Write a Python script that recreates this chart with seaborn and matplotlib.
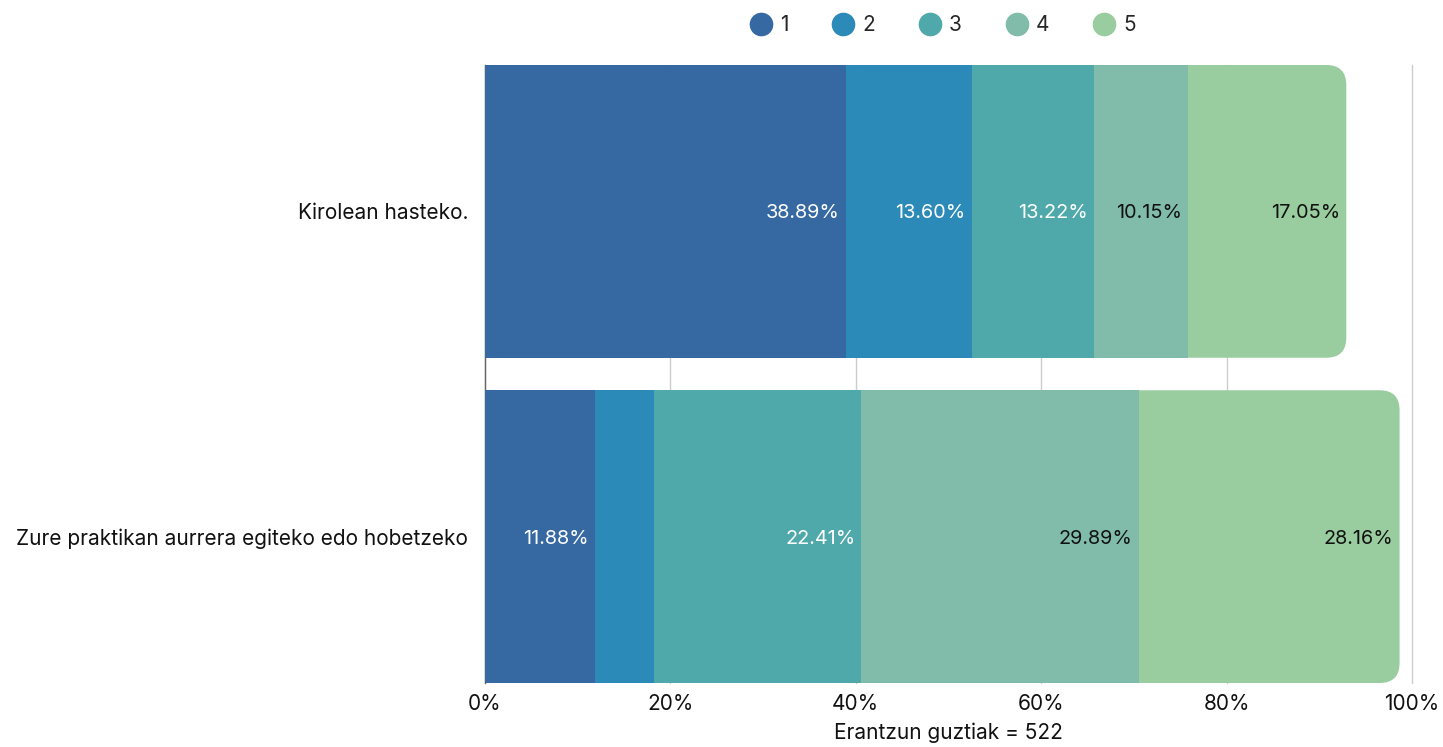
import numpy as np
import pandas as pd
import matplotlib
matplotlib.use("Agg")
import matplotlib.pyplot as plt
from matplotlib.patches import FancyBboxPatch
from matplotlib.lines import Line2D
import matplotlib.transforms as mtransforms
import seaborn as sns

categories = ["Kirolean hasteko.", "Zure praktikan aurrera egiteko edo hobetzeko"]
series_names = ["1", "2", "3", "4", "5"]
s1 = [38.89, 11.88]
s2 = [13.60, 6.32]
s3 = [13.22, 22.41]
s4 = [10.15, 29.89]
s5 = [17.05, 28.16]
colors = ["#3669a1", "#2c8ab8", "#4fa9aa", "#80bca9", "#99cc9e"]
text_colors = ["white", "white", "white", "#111111", "#111111"]
xticks = [0, 20, 40, 60, 80, 100]
xlabel = "Erantzun guztiak = 522"

sns.set_theme(style="white")
plt.rcParams["font.family"] = ["Inter", "DejaVu Sans"]

series = [s1, s2, s3, s4, s5]
vals = np.array(series)
cum = np.cumsum(vals, axis=0)

fig = plt.figure(figsize=(14.43, 7.47), dpi=100)
ax = fig.add_axes([485 / 1443, 1 - 683 / 747, (1412 - 485) / 1443, (683 - 65) / 747])

for k in range(len(series) - 1, -1, -1):
    df = pd.DataFrame({"category": categories, "value": cum[k]})
    sns.barplot(data=df, x="value", y="category", color=colors[k], saturation=1,
                width=0.9, orient="h", ax=ax, zorder=2, linewidth=0, edgecolor="none")

ax.set_ylim(1.45, -0.45)
ax.set_xlim(0, 100)

# round the right end of the total bars (first drawn patches)
fig.canvas.draw()
px_per_x = ax.transData.transform((1, 0))[0] - ax.transData.transform((0, 0))[0]
px_per_y = abs(ax.transData.transform((0, 1))[1] - ax.transData.transform((0, 0))[1])
r_px = 20
r_x = r_px / px_per_x
aspect = (r_px / px_per_y) / r_x
total_patches = list(ax.patches[:len(categories)])
for p in total_patches:
    x0, y0, w, h = p.get_x(), p.get_y(), p.get_width(), p.get_height()
    fc = p.get_facecolor()
    p.remove()
    fb = FancyBboxPatch((x0, y0), w, h,
                        boxstyle=f"round,pad=0,rounding_size={r_x}",
                        mutation_aspect=aspect, facecolor=fc, edgecolor="none",
                        linewidth=0, zorder=1.9)
    ax.add_patch(fb)

# value labels
offset = mtransforms.ScaledTranslation(-6 / 100, 0, fig.dpi_scale_trans)
for k in range(len(series)):
    for i in range(len(categories)):
        v = vals[k][i]
        if v < 8:
            continue
        ax.text(cum[k][i], i, f"{v:.2f}%", ha="right", va="center_baseline",
                color=text_colors[k], fontsize=14.3,
                transform=ax.transData + offset, zorder=5)

ax.set_xticks(xticks)
ax.set_xticklabels([f"{t}%" for t in xticks], fontsize=15, color="#111111")
ax.tick_params(axis="y", length=0, pad=12, labelsize=15, labelcolor="#111111")
ax.tick_params(axis="x", length=0, pad=8)
ax.set_ylabel("")
ax.set_xlabel(xlabel, fontsize=15, color="#111111", labelpad=6)

ax.grid(axis="x", color="#cccccc", linewidth=1, zorder=0)
for gl in ax.get_xgridlines():
    gl.set_clip_on(False)
ax.set_axisbelow(True)
for s in ["top", "right", "bottom"]:
    ax.spines[s].set_visible(False)
ax.spines["left"].set_color("#666666")
ax.spines["left"].set_linewidth(1)
ax.spines["left"].set_zorder(1)

handles = [Line2D([0], [0], marker="o", linestyle="", markersize=16,
                  markerfacecolor=c, markeredgecolor=c) for c in colors]
fig.legend(handles, series_names, loc="center", bbox_to_anchor=(942 / 1443, 1 - 25 / 747),
           ncol=5, frameon=False, fontsize=15, handletextpad=0.3, columnspacing=2.05,
           handlelength=1.2)

fig.savefig("out.png", dpi=100)
